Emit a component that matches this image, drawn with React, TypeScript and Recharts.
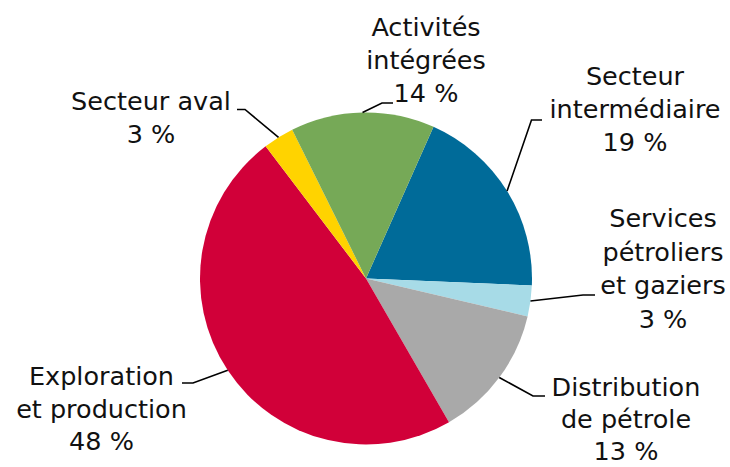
import { PieChart, Pie, Cell } from 'recharts';

// Répartition par segment d'activité (%)
const segments = [
  'Secteur intermédiaire',
  'Services pétroliers et gaziers',
  'Distribution de pétrole',
  'Exploration et production',
  'Secteur aval',
  'Activités intégrées',
];
const shares = [19, 3, 13, 48, 3, 14];
const labelRows = [
  ['Secteur', 'intermédiaire'],
  ['Services', 'pétroliers', 'et gaziers'],
  ['Distribution', 'de pétrole'],
  ['Exploration', 'et production'],
  ['Secteur aval'],
  ['Activités', 'intégrées'],
];

const COLORS = ['#006b99', '#a7dbe7', '#a9a9a9', '#d10039', '#ffd300', '#76a957'];

// leader line elbow / end and text block placement for each label
const LAYOUT = [
  { ex: 531.5, ey: 120, endX: 542, tx: 635, ty: 85, lh: 33 },
  { ex: 583, ey: 295, endX: 595, tx: 663, ty: 227, lh: 33.5 },
  { ex: 533, ey: 396, endX: 545, tx: 626, ty: 396, lh: 32 },
  { ex: 193, ey: 383, endX: 182, tx: 101.5, ty: 385, lh: 32.5 },
  { ex: 245, ey: 109.5, endX: 237, tx: 151, ty: 110, lh: 33 },
  { ex: 382, ey: 103, endX: 393, tx: 426, ty: 36, lh: 33 },
];

const RAD = Math.PI / 180;

const chartData = segments.map((name, i) => ({ name, value: shares[i] }));

function renderLabel(props: any) {
  const { cx, cy, midAngle, outerRadius, index, value } = props;
  const l = LAYOUT[index];
  const sx = cx + outerRadius * Math.cos(-midAngle * RAD);
  const sy = cy + outerRadius * Math.sin(-midAngle * RAD);
  const rows = [...labelRows[index], `${value}\u00a0%`];
  return (
    <g key={`lbl-${index}`}>
      <polyline
        points={`${sx},${sy} ${l.ex},${l.ey} ${l.endX},${l.ey}`}
        fill="none"
        stroke="#000"
        strokeWidth={1.6}
      />
      <text
        x={l.tx}
        y={l.ty}
        textAnchor="middle"
        fontFamily="'DejaVu Sans', sans-serif"
        fontSize={25.5}
        fill="#111"
      >
        {rows.map((r, i) => (
          <tspan key={i} x={l.tx} y={l.ty + i * l.lh}>
            {r}
          </tspan>
        ))}
      </text>
    </g>
  );
}

export default function App() {
  return (
    <div style={{ position: 'absolute', left: 0, top: 0, background: '#fff' }}>
      <PieChart width={730} height={467} margin={{ top: 0, right: 0, bottom: 0, left: 0 }}>
        <Pie
          data={chartData}
          dataKey="value"
          nameKey="name"
          cx={366}
          cy={278.5}
          outerRadius={166}
          startAngle={66}
          endAngle={-294}
          stroke="none"
          label={renderLabel}
          labelLine={false}
          isAnimationActive={false}
        >
          {chartData.map((d, i) => (
            <Cell key={d.name} fill={COLORS[i]} />
          ))}
        </Pie>
      </PieChart>
    </div>
  );
}
